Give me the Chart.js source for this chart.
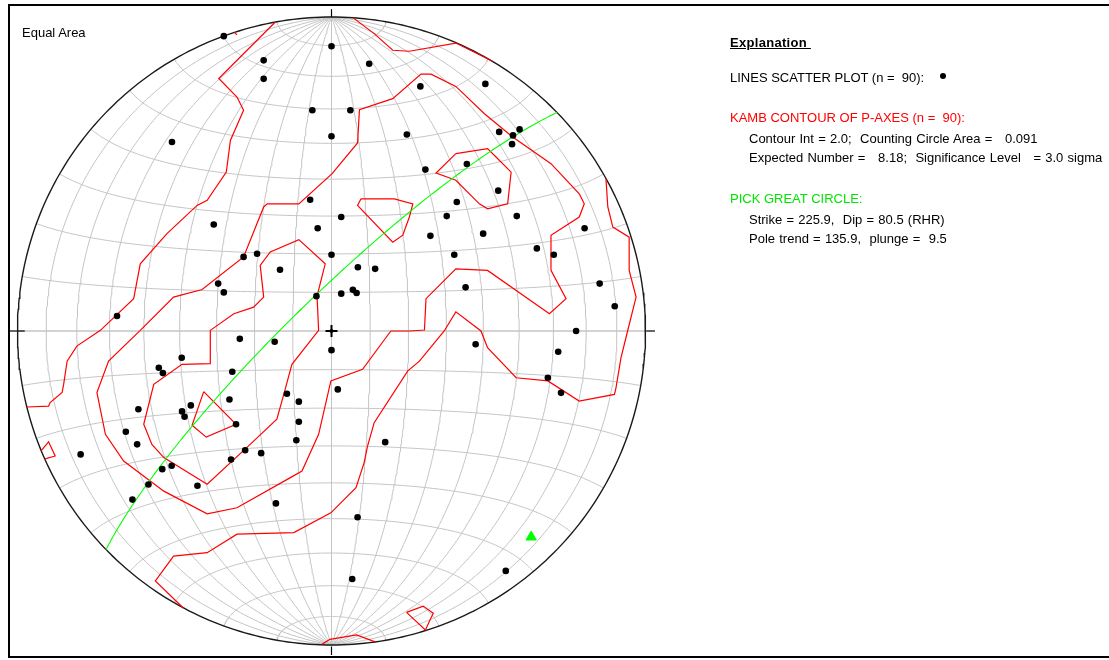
<!DOCTYPE html>
<html>
<head>
<meta charset="utf-8">
<script src="https://cdn.jsdelivr.net/npm/chart.js@4.4.1/dist/chart.umd.min.js"></script>
<style>
  html, body { margin: 0; padding: 0; background: #fff; overflow: hidden; }
  #tela { position: relative; width: 1109px; height: 660px; }
  #moldura { position: absolute; left: 8px; top: 4px; width: 1200px; height: 650px; border: 2px solid #000; border-right: none; }
  #grafico { position: absolute; left: 0; top: 0; }
  .txt { position: absolute; font: 13px "Liberation Sans", Arial, sans-serif; white-space: pre; line-height: 15px; color: #000; }
  .largo { word-spacing: 0.6px; }
  .vermelho { color: #ff0000; }
  .verde { color: #00e600; }
  .titulo { font-weight: bold; text-decoration: underline; letter-spacing: 0.3px; }
  #pontoLegenda { position: absolute; left: 940px; top: 73px; width: 6px; height: 6px; border-radius: 50%; background: #000; }
</style>
</head>
<body>
<div id="tela">
  <div id="moldura"></div>
  <canvas id="grafico" width="1109" height="660"></canvas>
  <div class="txt" style="left:22px; top:24.5px;">Equal Area</div>
  <div class="txt titulo" style="left:730px; top:35.3px;">Explanation </div>
  <div class="txt" style="left:730px; top:70.3px;">LINES SCATTER PLOT (n =  90):</div>
  <div id="pontoLegenda"></div>
  <div class="txt vermelho" style="left:730px; top:110.3px;">KAMB CONTOUR OF P-AXES (n =  90):</div>
  <div class="txt largo" style="left:749px; top:131px;">Contour Int = 2.0;  Counting Circle Area =   0.091</div>
  <div class="txt largo" style="left:749px; top:150.3px;">Expected Number =   8.18;  Significance Level   = 3.0 sigma</div>
  <div class="txt verde" style="left:730px; top:191px;">PICK GREAT CIRCLE:</div>
  <div class="txt largo" style="left:749px; top:211.6px;">Strike = 225.9,  Dip = 80.5 (RHR)</div>
  <div class="txt largo" style="left:749px; top:231px;">Pole trend = 135.9,  plunge =  9.5</div>
</div>
<script>
// pontos das linhas no plano da projeção (raio do círculo = 1, x para leste, y para norte)
var pontosX = [
  -0.343, 0.000, -0.216, -0.216, -0.061, 0.000, -0.508, -0.068, -0.375, -0.044,
  0.000, -0.280, -0.237, -0.164, -0.361, -0.343, -0.048, -0.683,
  0.120, 0.283, 0.490, 0.060, 0.240, 0.534, 0.599, 0.578, 0.575, 0.299,
  0.431, 0.531, 0.399, 0.031, 0.367, 0.590, 0.315, 0.483, 0.806, 0.391,
  0.654, 0.708, 0.084, 0.139, 0.031, 0.068, 0.080, 0.427, 0.854, 0.902, 0.779,
  -0.292, -0.181, 0.000, -0.477, -0.550, -0.537, -0.316, -0.142, -0.104, -0.325,
  -0.448, -0.476, -0.468, -0.615, -0.104, -0.304, -0.655, -0.619, -0.112, -0.275,
  -0.224, -0.320, -0.799, -0.509, -0.539, -0.583, -0.427, -0.634, -0.177,
  0.459, 0.722, 0.020, 0.689, 0.731, 0.171, 0.083, 0.066, 0.555
];
var pontosY = [
  0.939, 0.907, 0.862, 0.803, 0.703, 0.620, 0.602, 0.418, 0.339, 0.327,
  0.243, 0.236, 0.246, 0.195, 0.151, 0.123, 0.111, 0.048,
  0.851, 0.779, 0.787, 0.703, 0.626, 0.634, 0.642, 0.623, 0.595, 0.514,
  0.532, 0.447, 0.411, 0.363, 0.366, 0.366, 0.303, 0.310, 0.327, 0.243,
  0.263, 0.243, 0.203, 0.198, 0.119, 0.131, 0.121, 0.139, 0.151, 0.079, 0.000,
  -0.025, -0.034, -0.061, -0.085, -0.117, -0.134, -0.130, -0.200, -0.225, -0.218,
  -0.237, -0.256, -0.273, -0.249, -0.289, -0.297, -0.321, -0.361, -0.348, -0.380,
  -0.389, -0.409, -0.393, -0.429, -0.440, -0.489, -0.493, -0.537, -0.549,
  -0.042, -0.066, -0.186, -0.149, -0.197, -0.354, -0.593, -0.790, -0.764
];

// contornos de Kamb que saem e voltam pela borda do círculo
var contornoOeste = [[-0.179,0.984],[-0.359,0.804],[-0.301,0.745],[-0.280,0.703],[-0.322,0.607],[-0.335,0.506],[-0.396,0.416],[-0.428,0.400],[-0.524,0.310],[-0.609,0.214],[-0.630,0.103],[-0.736,0.002],[-0.811,-0.048],[-0.842,-0.096],[-0.853,-0.170],[-0.858,-0.196],[-0.896,-0.228],[-0.901,-0.239],[-0.970,-0.242]];
var contornoNorte = [[0.068,0.998],[0.136,0.947],[0.195,0.894],[0.248,0.891],[0.396,0.917],[0.497,0.867],[0.513,0.859]];
var contornoLeste = [[0.874,0.486],[0.880,0.395],[0.896,0.331],[0.948,0.299],[0.948,0.193],[0.970,0.108],[0.943,0.000],[0.922,-0.085],[0.906,-0.181],[0.901,-0.202],[0.789,-0.223],[0.689,-0.159],[0.588,-0.149],[0.497,-0.053],[0.476,0.000],[0.396,0.061],[0.359,0.000],[0.280,-0.096],[0.243,-0.127],[0.136,-0.292],[0.115,-0.366],[0.104,-0.419],[0.078,-0.499],[-0.002,-0.579],[-0.120,-0.642],[-0.301,-0.647],[-0.396,-0.706],[-0.503,-0.717],[-0.561,-0.796],[-0.472,-0.882]];
var contornoSul = [[-0.031,-0.998],[-0.005,-0.982],[0.080,-0.968],[0.139,-0.990]];
var contornoBordaOeste = [[-0.925,-0.382],[-0.901,-0.353],[-0.880,-0.398],[-0.912,-0.407]];
var contornoBordaNorte = [[-0.309,0.951],[-0.301,0.943]];

// contornos fechados
var contornoCentral = [[-0.609,0.002],[-0.503,0.108],[-0.412,0.132],[-0.280,0.236],[-0.216,0.395],[-0.205,0.405],[-0.104,0.405],[0.002,0.501],[0.083,0.599],[0.089,0.705],[0.195,0.740],[0.285,0.818],[0.317,0.818],[0.396,0.779],[0.487,0.692],[0.577,0.618],[0.699,0.533],[0.789,0.437],[0.805,0.405],[0.789,0.363],[0.699,0.305],[0.699,0.193],[0.747,0.103],[0.694,0.055],[0.497,0.193],[0.396,0.198],[0.301,0.103],[0.296,0.003],[0.248,0.000],[0.189,0.000],[0.099,-0.122],[-0.002,-0.159],[-0.041,-0.329],[-0.094,-0.446],[-0.131,-0.467],[-0.301,-0.563],[-0.396,-0.582],[-0.534,-0.510],[-0.662,-0.414],[-0.720,-0.329],[-0.747,-0.196],[-0.710,-0.096]];
var contornoInterno = [[-0.386,0.002],[-0.311,0.055],[-0.248,0.076],[-0.216,0.108],[-0.227,0.209],[-0.195,0.252],[-0.104,0.291],[-0.020,0.214],[-0.036,0.151],[-0.046,0.111],[-0.041,0.002],[-0.126,-0.106],[-0.152,-0.202],[-0.174,-0.281],[-0.259,-0.361],[-0.396,-0.488],[-0.534,-0.403],[-0.572,-0.361],[-0.598,-0.297],[-0.566,-0.170],[-0.476,-0.106],[-0.386,-0.104]];
var contornoNucleo = [[-0.407,-0.193],[-0.304,-0.297],[-0.399,-0.338],[-0.444,-0.300]];
var contornoNorteCentral = [[0.094,0.421],[0.200,0.421],[0.259,0.405],[0.248,0.363],[0.227,0.305],[0.195,0.283],[0.083,0.400]];
var contornoNordeste = [[0.396,0.565],[0.497,0.581],[0.524,0.554],[0.572,0.506],[0.561,0.405],[0.497,0.389],[0.471,0.405],[0.396,0.480],[0.333,0.503]];
var contornoSudeste = [[0.239,-0.896],[0.292,-0.876],[0.324,-0.899],[0.299,-0.952]];

var contornosAbertos = [contornoOeste, contornoNorte, contornoLeste, contornoSul, contornoBordaOeste, contornoBordaNorte];
var contornosFechados = [contornoCentral, contornoInterno, contornoNucleo, contornoNorteCentral, contornoNordeste, contornoSudeste];

// plano escolhido (regra da mão direita) e o polo dele
var direcaoPlano = 225.9;
var mergulhoPlano = 80.5;
var poloTrend = 135.9;
var poloPlunge = 9.5;

var rad = Math.PI / 180;

// projeção de área igual no hemisfério inferior (leste, norte, para baixo)
function projetar(e, n, b) {
  var k = 1 / Math.sqrt(1 + b);
  return { x: e * k, y: n * k };
}

// rede de Schmidt: meridianos e paralelos de 10 em 10 graus
var linhasRede = [];
for (var lon = 10; lon < 180; lon += 10) {
  var pts = [];
  for (var lat = -90; lat <= 90; lat += 1) {
    var c = Math.cos(lat * rad);
    pts.push(projetar(c * Math.cos(lon * rad), Math.sin(lat * rad), c * Math.sin(lon * rad)));
  }
  linhasRede.push(pts);
}
for (var lat = -80; lat <= 80; lat += 10) {
  var pts = [];
  var c = Math.cos(lat * rad);
  for (var lon = 0; lon <= 180; lon += 1) {
    pts.push(projetar(c * Math.cos(lon * rad), Math.sin(lat * rad), c * Math.sin(lon * rad)));
  }
  linhasRede.push(pts);
}

// círculo primitivo
var primitivo = [];
for (var a = 0; a <= 360; a += 1) {
  primitivo.push({ x: Math.sin(a * rad), y: Math.cos(a * rad) });
}

// grande círculo do plano
var sx = Math.sin(direcaoPlano * rad), sy = Math.cos(direcaoPlano * rad);
var dirMerg = (direcaoPlano + 90) * rad;
var cm = Math.cos(mergulhoPlano * rad);
var dx = Math.sin(dirMerg) * cm, dy = Math.cos(dirMerg) * cm, dz = Math.sin(mergulhoPlano * rad);
var grandeCirculo = [];
for (var t = 0; t <= 180; t += 1) {
  var ct = Math.cos(t * rad), st = Math.sin(t * rad);
  grandeCirculo.push(projetar(ct * sx + st * dx, ct * sy + st * dy, st * dz));
}

var cp = Math.cos(poloPlunge * rad);
var polo = projetar(Math.sin(poloTrend * rad) * cp, Math.cos(poloTrend * rad) * cp, Math.sin(poloPlunge * rad));

function paraXY(lista, fechar) {
  var r = lista.map(function(p) { return { x: p[0], y: p[1] }; });
  if (fechar) r.push({ x: lista[0][0], y: lista[0][1] });
  return r;
}

function linha(pontos, cor, largura, ordem) {
  return {
    data: pontos,
    showLine: true,
    borderColor: cor,
    borderWidth: largura,
    pointRadius: 0,
    tension: 0,
    fill: false,
    clip: false,
    order: ordem
  };
}

var datasets = [];

linhasRede.forEach(function(l) { datasets.push(linha(l, "#c4c4c4", 1, 10)); });
// linhas N-S e L-O do centro
datasets.push(linha([{ x: 0, y: -1 }, { x: 0, y: 1 }], "#c4c4c4", 1, 10));
datasets.push(linha([{ x: -1, y: 0 }, { x: 1, y: 0 }], "#c4c4c4", 1, 10));

datasets.push(linha(primitivo, "#1a1a1a", 1.4, 6));

// marcas nos quatro pontos cardeais
datasets.push(linha([{ x: 0, y: 1 }, { x: 0, y: 1.025 }], "#000", 1.2, 6));
datasets.push(linha([{ x: 0, y: -1.005 }, { x: 0, y: -1.032 }], "#000", 1.2, 6));
datasets.push(linha([{ x: -1.024, y: 0 }, { x: -0.977, y: 0 }], "#000", 1.2, 6));
datasets.push(linha([{ x: 1.002, y: 0 }, { x: 1.03, y: 0 }], "#000", 1.2, 6));

contornosAbertos.forEach(function(c) { datasets.push(linha(paraXY(c, false), "#ff0000", 1.2, 5)); });
contornosFechados.forEach(function(c) { datasets.push(linha(paraXY(c, true), "#ff0000", 1.2, 5)); });

datasets.push(linha(grandeCirculo, "#00ff00", 1.1, 4));

// os pontos das linhas
var pontos = pontosX.map(function(x, i) { return { x: x, y: pontosY[i] }; });
datasets.push({
  data: pontos,
  showLine: false,
  pointRadius: 3.3,
  pointBackgroundColor: "#000",
  pointBorderWidth: 0,
  clip: false,
  order: 2
});

// polo do plano
datasets.push({
  data: [polo],
  showLine: false,
  pointStyle: "triangle",
  pointRadius: 6,
  pointBackgroundColor: "#00ff00",
  pointBorderColor: "#00ff00",
  pointBorderWidth: 1,
  clip: false,
  order: 1
});

// cruz do centro
datasets.push({
  data: [{ x: 0, y: 0 }],
  showLine: false,
  pointStyle: "cross",
  pointRadius: 6,
  pointBorderColor: "#000",
  pointBorderWidth: 2,
  clip: false,
  order: 0
});
datasets.push({
  data: [{ x: 0, y: 0 }],
  showLine: false,
  pointRadius: 2,
  pointBackgroundColor: "#000",
  pointBorderWidth: 0,
  clip: false,
  order: 0
});

var ctx = document.getElementById("grafico").getContext("2d");

var grafico = new Chart(ctx, {
  type: "scatter",
  data: { datasets: datasets },
  options: {
    responsive: false,
    animation: false,
    events: [],
    layout: {
      padding: { left: 17.5, top: 17, right: 463.5, bottom: 15 }
    },
    plugins: {
      legend: { display: false },
      tooltip: { enabled: false }
    },
    scales: {
      x: { type: "linear", min: -1, max: 1, display: false },
      y: { type: "linear", min: -1, max: 1, display: false }
    }
  }
});
</script>
</body>
</html>
